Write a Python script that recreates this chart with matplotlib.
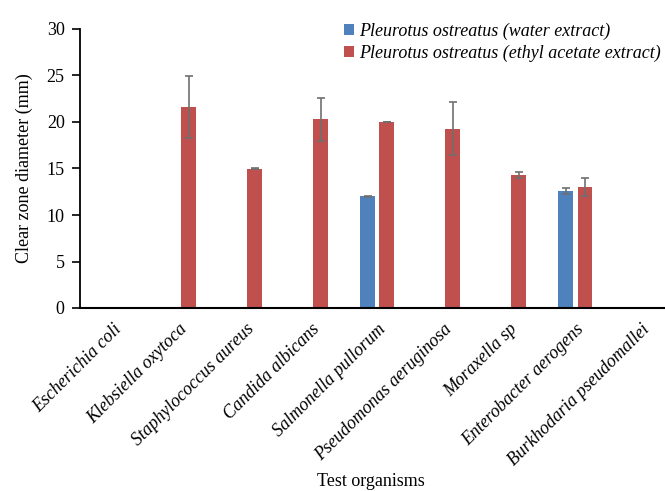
import numpy as np
import matplotlib
matplotlib.use("Agg")
import matplotlib.pyplot as plt

organisms = ['Escherichia coli', 'Klebsiella oxytoca', 'Staphylococcus aureus',
             'Candida albicans', 'Salmonella pullorum', 'Pseudomonas aeruginosa',
             'Moraxella sp', 'Enterobacter aerogens', 'Burkhodaria pseudomallei']
water = [0, 0, 0, 0, 12.0, 0, 0, 12.6, 0]
water_err = [0, 0, 0, 0, 0.05, 0, 0, 0.35, 0]
ethyl = [0, 21.6, 14.95, 20.3, 20.0, 19.3, 14.3, 13.0, 0]
ethyl_err = [0, 3.3, 0.05, 2.3, 0.05, 2.8, 0.35, 1.0, 0]

plt.rcParams['font.family'] = ['Liberation Serif', 'DejaVu Serif']

fig = plt.figure(figsize=(6.65, 4.91), dpi=100)
ax = fig.add_axes([80 / 665, 183 / 491, 1 - 80 / 665, 279 / 491])

x = np.arange(len(organisms))
w = 0.22
off = 0.145
blue = '#4f81bd'
red = '#c0504d'
ekw = dict(ecolor='#6f6f6f', elinewidth=1.2, capsize=3, capthick=1.2)

# only draw non-zero bars (zero entries have no bar in the original)
wx = [xi - off for xi, v in zip(x, water) if v > 0]
wv = [v for v in water if v > 0]
we = [e for v, e in zip(water, water_err) if v > 0]
ex = [xi + off for xi, v in zip(x, ethyl) if v > 0]
ev = [v for v in ethyl if v > 0]
ee = [e for v, e in zip(ethyl, ethyl_err) if v > 0]

ax.bar(wx, wv, w, color=blue, yerr=we, error_kw=ekw, zorder=2,
       label='Pleurotus ostreatus (water extract)')
ax.bar(ex, ev, w, color=red, yerr=ee, error_kw=ekw, zorder=2,
       label='Pleurotus ostreatus (ethyl acetate extract)')

ax.set_xlim(-0.5, 8.36)
ax.set_ylim(0, 30)
ax.set_yticks(np.arange(0, 31, 5))
ax.tick_params(axis='y', labelsize=13, direction='out', length=6, width=1.2, pad=5)
ax.set_xticks(x)
ax.set_xticklabels(organisms, rotation=45, ha='right', rotation_mode='anchor',
                   style='italic', fontsize=13)
ax.tick_params(axis='x', length=0, pad=9)
for s in ['top', 'right']:
    ax.spines[s].set_visible(False)
ax.spines['left'].set_linewidth(1.3)
ax.spines['bottom'].set_linewidth(1.5)

ax.set_ylabel('Clear zone diameter (mm)', fontsize=13, labelpad=10)
fig.text(0.557, 9 / 491, 'Test organisms', ha='center', va='center', fontsize=13)

leg = ax.legend(loc='upper left', bbox_to_anchor=(0.423, 1.08),
                bbox_transform=ax.transAxes, frameon=False, fontsize=13,
                handlelength=0.55, handleheight=0.55, handletextpad=0.3, labelspacing=0.25)
for t in leg.get_texts():
    t.set_style('italic')

fig.savefig('out.png', dpi=100)
